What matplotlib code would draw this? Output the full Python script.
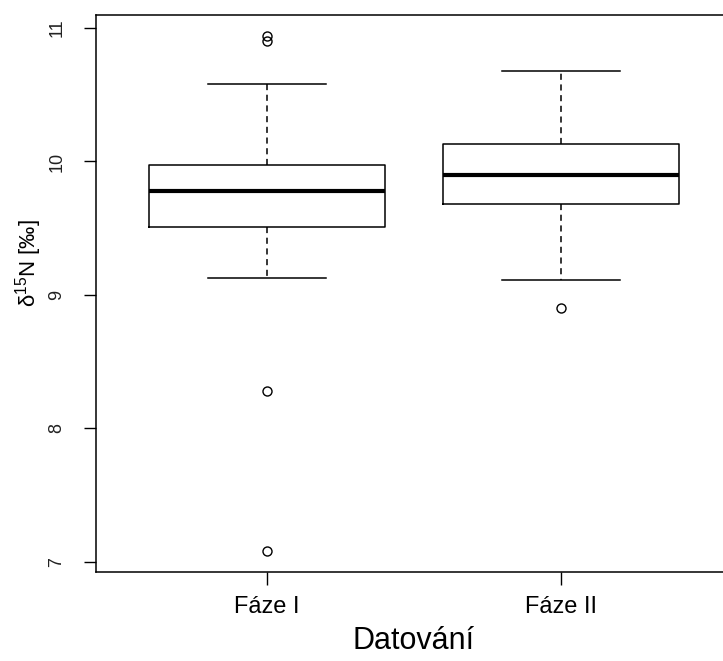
import matplotlib
matplotlib.use('Agg')
import matplotlib.pyplot as plt

plt.rcParams['font.family'] = ['Liberation Sans', 'DejaVu Sans']
plt.rcParams['mathtext.fontset'] = 'custom'
plt.rcParams['mathtext.rm'] = 'Liberation Sans'

# groups on the x axis
groups = ['Fáze I', 'Fáze II']

# box statistics (δ15N, ‰)
q1 = [9.51, 9.68]
med = [9.78, 9.90]
q3 = [9.97, 10.13]
whis_lo = [9.13, 9.11]
whis_hi = [10.58, 10.68]
outliers = [[10.94, 10.90, 8.28, 7.08], [8.90]]

stats = []
for i, g in enumerate(groups):
    stats.append(dict(label=g, q1=q1[i], med=med[i], q3=q3[i],
                      whislo=whis_lo[i], whishi=whis_hi[i], fliers=outliers[i]))

fig = plt.figure(figsize=(7.23, 6.61), dpi=100)
# plot region runs slightly past the right edge, as in the original
ax = fig.add_axes([96 / 723, 1 - 572 / 661, 636 / 723, 557 / 661])

ax.bxp(stats, positions=[1, 2], widths=0.8,
       boxprops=dict(color='black', linewidth=1.1),
       medianprops=dict(color='black', linewidth=3.0, solid_capstyle='butt'),
       whiskerprops=dict(color='black', linewidth=1.1, linestyle=(0, (4, 3))),
       capprops=dict(color='black', linewidth=1.1),
       capwidths=0.4,
       flierprops=dict(marker='o', markerfacecolor='none', markeredgecolor='black',
                       markersize=6.5, markeredgewidth=1.0))

ax.set_xlim(0.42, 2.58)
ax.set_ylim(6.925, 11.097)
ax.set_yticks([7, 8, 9, 10, 11])
ax.set_yticklabels(['7', '8', '9', '10', '11'], rotation=90, va='center', fontsize=13)
ax.set_xticks([1, 2])
ax.set_xticklabels(groups, fontsize=17)
ax.tick_params(axis='both', length=9, width=1.0, color='black')
ax.tick_params(axis='y', pad=13, labelcolor='#222222')
ax.tick_params(axis='x', pad=8)
for s in ax.spines.values():
    s.set_linewidth(1.1)

ax.set_xlabel('Datování', fontsize=22, labelpad=6)
ax.set_ylabel(r'δ$\mathregular{^{15}}$N [‰]', fontsize=16)
ax.yaxis.set_label_coords(-0.082, 0.555)

fig.savefig('out.png', dpi=100)
